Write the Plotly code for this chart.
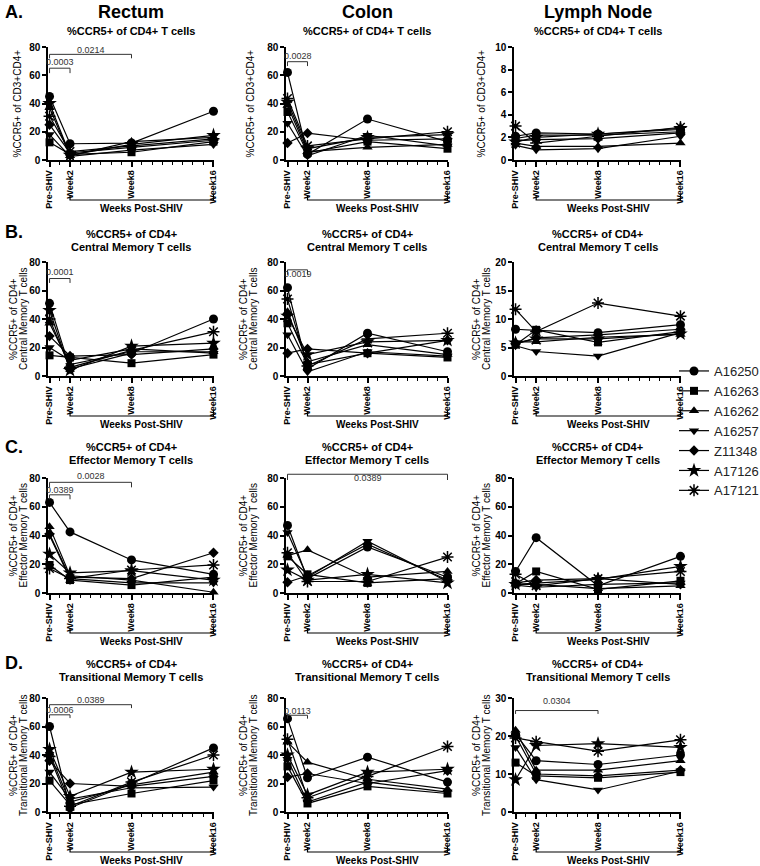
import plotly.graph_objects as go

FONT = "Liberation Sans, Arial, Helvetica, sans-serif"
W, H = 760, 866

weeks = [0, 2, 8, 16]
week_labels = ["Pre-SHIV", "Week2", "Week8", "Week16"]
animals = ["A16250", "A16263", "A16262", "A16257", "Z11348", "A17126", "A17121"]

# values per animal (rows follow `animals`), columns follow `weeks`
rectum_cd4 = [[45, 11.5, 12, 34.5], [12.5, 4, 5.5, 13], [37, 3, 13, 16], [18, 2.5, 7, 11],
              [25, 5, 9, 14], [40, 3.5, 11, 17.5], [31, 6, 10, 15]]
colon_cd4 = [[62, 4, 29, 13], [34, 5, 13, 8], [38.5, 6, 9, 11], [26, 3, 17.5, 10],
             [12, 19, 14, 15], [41, 8, 16, 18], [43.5, 10, 15, 20]]
ln_cd4 = [[2.1, 2.4, 2.3, 2.7], [1.9, 2.2, 2.2, 2.5], [1.5, 1.2, 1.2, 1.5], [1.3, 0.9, 1.0, 2.1],
          [1.7, 1.8, 1.9, 2.4], [1.6, 2.0, 2.3, 2.8], [3.0, 1.5, 2.1, 2.9]]
rectum_cm = [[51, 5, 16, 40], [14.5, 13, 9, 15], [37, 8, 17, 17], [20, 11, 19, 16],
             [28, 14, 15, 19], [46, 4, 21, 23], [40, 6, 18, 31]]
colon_cm = [[62, 5, 30, 17], [37, 8, 16, 13], [45, 10, 22, 15], [29, 3, 17, 14],
            [16, 19, 16, 25], [42, 15, 24, 25], [54, 7, 26, 30]]
ln_cm = [[8.2, 8.0, 7.6, 9.0], [5.5, 8.1, 5.9, 7.8], [6.0, 6.0, 6.8, 7.3], [5.3, 4.3, 3.5, 7.6],
         [5.6, 6.7, 7.2, 8.2], [5.8, 6.5, 6.5, 7.4], [11.7, 7.8, 12.8, 10.5]]
rectum_em = [[63, 42.5, 23, 13], [19.5, 9, 5.5, 11], [46, 12, 9, 0.5], [40, 10, 7, 7],
             [41, 11, 10, 28], [27, 14, 15.5, 9], [17, 10, 16, 19.5]]
colon_em = [[47, 10, 32, 11], [25.5, 13, 7, 10], [26, 30, 11, 15], [42, 11, 36, 8],
            [7.5, 12, 34, 9], [16, 9, 13, 7], [28, 8, 8, 25]]
ln_em = [[15, 38.5, 5, 25.5], [6.5, 15, 2.5, 8.5], [6, 6, 3, 5], [5.5, 4, 6, 7],
         [7, 9, 10, 6], [6, 7, 9.5, 18.5], [13, 5, 10, 15]]
rectum_tm = [[60, 3, 20, 45], [22, 5, 13, 22], [41, 7, 19, 28], [28, 9, 17, 17.5],
             [36, 20, 18, 25], [44, 11, 28, 30], [39, 4, 21, 40]]
colon_tm = [[65.5, 24, 38.5, 21], [32, 6, 18, 13], [49, 35, 23, 16], [37, 7, 21, 14],
            [24.5, 27, 20, 29], [40, 12, 28, 30], [51, 10, 25, 46]]
ln_tm = [[20.5, 13.5, 12.5, 15], [13, 9.5, 9, 10.5], [21.5, 11, 11, 13.5], [17, 8.5, 5.8, 10.8],
         [20, 10, 9.5, 11], [8.5, 17.5, 18, 17], [19.5, 18.5, 16, 19]]

tissues = ["Rectum", "Colon", "Lymph Node"]
panel_letters = ["A.", "B.", "C.", "D."]
row_subsets = ["", "Central Memory T cells", "Effector Memory T cells", "Transitional Memory T cells"]
y_max = [[80, 80, 10], [80, 80, 20], [80, 80, 80], [80, 80, 30]]
y_dtick = [[20, 20, 2], [20, 20, 5], [20, 20, 20], [20, 20, 10]]

# significance: (panel index, label, x0, x1, bracket y, end y, text y)
sig_marks = [
    (0, "0.0003", 0, 2, 65, 61.5, 69.5), (0, "0.0214", 0, 8, 74.8, 72, 78),
    (1, "0.0028", 0, 2, 69.6, 66.5, 73.6),
    (3, "0.0001", 0, 2, 68.4, 65.3, 73),
    (4, "0.0019", 0, 2, 74.5, 71, 71.5),
    (6, "0.0389", 0, 2, 68.3, 65.2, 71.8), (6, "0.0028", 0, 8, 77, 73.5, 81.2),
    (7, "0.0389", 0, 16, 82.6, 78.6, 80.3),
    (9, "0.0006", 0, 2, 68.2, 65.9, 71.5), (9, "0.0389", 0, 8, 75.3, 72.9, 78.8),
    (10, "0.0113", 0, 2, 67.9, 65.5, 70.7),
    (11, "0.0304", 0, 8, 26.7, 25.8, 29.1),
]

panel_data = [[rectum_cd4, colon_cd4, ln_cd4], [rectum_cm, colon_cm, ln_cm],
              [rectum_em, colon_em, ln_em], [rectum_tm, colon_tm, ln_tm]]

# ---------- styling / layout geometry ----------
symbols = ["circle", "square", "triangle-up", "triangle-down", "diamond", "star", "asterisk-open"]
msizes = [9, 8, 9, 9, 8, 11, 10]
col_px = [(48, 214), (286, 448), (514, 681)]
row_px = [(47, 160), (262, 376), (478, 593), (698, 812)]
xr = [-0.15, 16.05]


def fx(px):
    return px / W


def fy(py):
    return 1 - py / H


def ann(**kw):
    base = dict(showarrow=False, xanchor="center", yanchor="middle")
    base.update(kw)
    return base


fig = go.Figure()
layout = dict(width=W, height=H, margin=dict(l=0, r=0, t=0, b=0, autoexpand=False),
              autosize=False, paper_bgcolor="white", plot_bgcolor="white",
              font=dict(family=FONT, color="black"))
annotations = []
shapes = []

for r in range(4):
    for c in range(3):
        k = r * 3 + c + 1
        sfx = "" if k == 1 else str(k)
        x0, x1 = col_px[c]
        y0, y1 = row_px[r]
        layout["xaxis" + sfx] = dict(
            domain=[fx(x0), fx(x1)], anchor="y" + sfx, range=xr, automargin=False,
            tickmode="array", tickvals=weeks, ticktext=week_labels, tickangle=-90,
            ticks="outside", ticklen=5, tickwidth=1.5, tickcolor="black",
            showline=True, linecolor="black", linewidth=1.5,
            showgrid=False, zeroline=False, fixedrange=True,
            tickfont=dict(family=FONT, size=9, color="black", weight="bold"),
            minor=dict(tickmode="array", tickvals=list(range(0, 17)), ticks="outside",
                       ticklen=3, tickwidth=1.2, tickcolor="black", showgrid=False))
        layout["yaxis" + sfx] = dict(
            domain=[fy(y1), fy(y0)], anchor="x" + sfx, range=[0, y_max[r][c]],
            automargin=False,
            tick0=0, dtick=y_dtick[r][c], ticks="outside", ticklen=4, tickwidth=1.5,
            tickcolor="black", showline=True, linecolor="black", linewidth=1.5,
            showgrid=False, zeroline=False, fixedrange=True,
            tickfont=dict(family=FONT, size=10, color="black", weight="bold"))

        data = panel_data[r][c]
        for i, name in enumerate(animals):
            is_ast = symbols[i] == "asterisk-open"
            fig.add_trace(go.Scatter(
                x=weeks, y=data[i], mode="lines+markers", name=name,
                legendgroup=name, showlegend=(k == 1), cliponaxis=False,
                xaxis="x" + sfx, yaxis="y" + sfx,
                line=dict(color="black", width=1.2),
                marker=dict(symbol=symbols[i], size=msizes[i], color="black",
                            line=dict(color="black", width=1.5 if is_ast else 0))))

        # y-axis titles
        cy = fy((y0 + y1) / 2)
        if r == 0:
            ytx = [17, 250, 481][c]
            annotations.append(ann(text="%CCR5+ of CD3+CD4+", x=fx(ytx), y=cy, xref="paper",
                                   yref="paper", textangle=-90,
                                   font=dict(size=10, family=FONT, color="black")))
        else:
            l1, l2 = [(13, 23), (243, 253), (476, 486)][c]
            annotations.append(ann(text="%CCR5+ of CD4+", x=fx(l1), y=cy, xref="paper",
                                   yref="paper", textangle=-90,
                                   font=dict(size=10, family=FONT, color="black")))
            annotations.append(ann(text=row_subsets[r], x=fx(l2), y=cy, xref="paper",
                                   yref="paper", textangle=-90,
                                   font=dict(size=10, family=FONT, color="black")))

        # subplot subtitles
        cx = fx((x0 + x1) / 2)
        if r == 0:
            annotations.append(ann(text="%CCR5+ of CD4+ T cells", x=cx, y=fy(31),
                                   xref="paper", yref="paper",
                                   font=dict(size=11, family=FONT, weight="bold")))
        else:
            ty1 = [0, 234, 447, 664][r]
            annotations.append(ann(text="%CCR5+ of CD4+", x=cx, y=fy(ty1),
                                   xref="paper", yref="paper",
                                   font=dict(size=11, family=FONT, weight="bold")))
            annotations.append(ann(text=row_subsets[r], x=cx, y=fy(ty1 + 12.5),
                                   xref="paper", yref="paper",
                                   font=dict(size=11, family=FONT, weight="bold")))

        # "Weeks Post-SHIV" bracket below
        ylen = y1 - y0
        yb = -40 / ylen
        ye = -35 / ylen
        shapes.append(dict(type="path", xref="x" + sfx, yref="y" + sfx + " domain",
                           path=f"M 2 {ye} L 2 {yb} L 16 {yb} L 16 {ye}",
                           line=dict(color="black", width=1.2)))
        annotations.append(ann(text="Weeks Post-SHIV", x=9, y=-48.5 / ylen,
                               xref="x" + sfx, yref="y" + sfx + " domain",
                               font=dict(size=10, family=FONT, weight="bold")))

for (p, lab, sx0, sx1, yl, ye_, yt) in sig_marks:
    k = p + 1
    sfx = "" if k == 1 else str(k)
    ym = y_max[p // 3][p % 3]
    shapes.append(dict(type="path", xref="x" + sfx, yref="y" + sfx + " domain",
                       path=f"M {sx0} {ye_/ym} L {sx0} {yl/ym} L {sx1} {yl/ym} L {sx1} {ye_/ym}",
                       line=dict(color="#333", width=1)))
    annotations.append(ann(text=lab, x=(sx0 + sx1) / 2, y=yt / ym, xref="x" + sfx,
                           yref="y" + sfx + " domain",
                           font=dict(size=9, family=FONT, color="#333")))

# column titles and panel letters
for c, t in enumerate(tissues):
    annotations.append(ann(text=t, x=fx((col_px[c][0] + col_px[c][1]) / 2), y=fy(12),
                           xref="paper", yref="paper",
                           font=dict(size=18, family=FONT, weight="bold")))
for r, t in enumerate(panel_letters):
    annotations.append(ann(text=t, x=fx(3), y=fy([12, 232, 447, 663][r]), xref="paper",
                           yref="paper", xanchor="left",
                           font=dict(size=18, family=FONT, weight="bold")))

layout["annotations"] = annotations
layout["shapes"] = shapes
layout["legend"] = dict(x=fx(674), y=fy(356), xanchor="left", yanchor="top",
                        font=dict(size=13, family=FONT, color="#222"),
                        bgcolor="rgba(0,0,0,0)", tracegroupgap=0, itemwidth=30)
layout["showlegend"] = True
fig.update_layout(**layout)
fig.write_html("out.html", config={"displayModeBar": False},
               post_script="document.body.style.margin='0px';")
